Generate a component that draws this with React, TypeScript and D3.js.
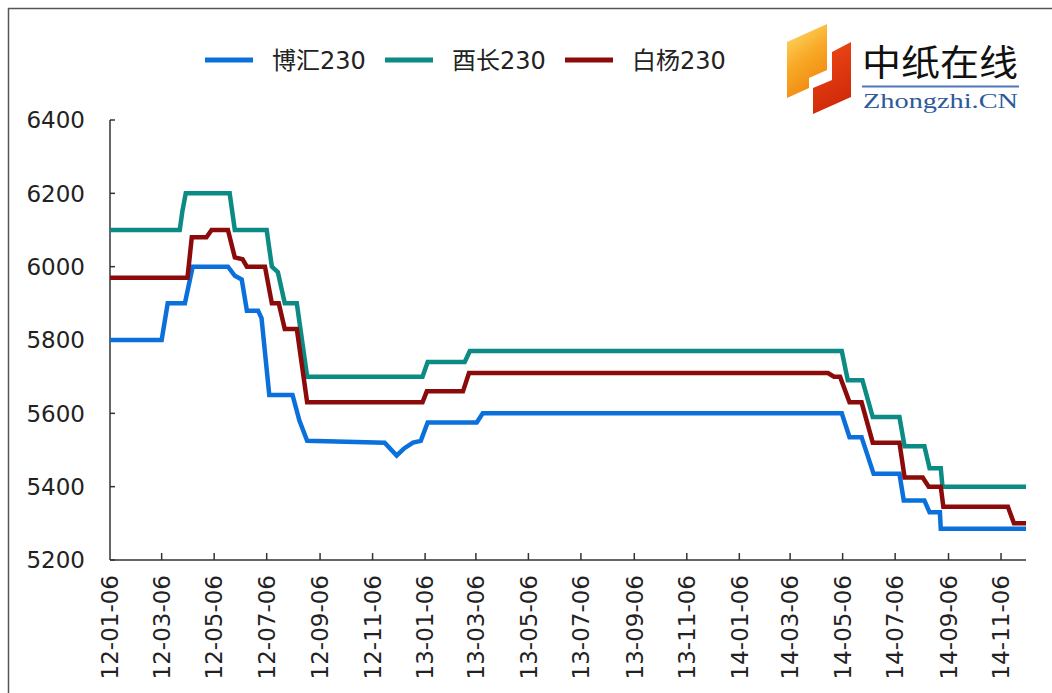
import React from "react";
import * as d3 from "d3";

const seriesNames = ["博汇230", "酉长230", "白杨230"];
const seriesColors = ["#0b70dc", "#0c8a84", "#8b0a0a"];

const bohuiDates = [
  "2012-01-06", "2012-03-06", "2012-03-13", "2012-04-02", "2012-04-11", "2012-05-22",
  "2012-05-30", "2012-06-07", "2012-06-13", "2012-06-26", "2012-06-30", "2012-07-09",
  "2012-08-05", "2012-08-13", "2012-08-22", "2012-11-20", "2012-12-04", "2012-12-13",
  "2012-12-23", "2013-01-01", "2013-01-09", "2013-03-07", "2013-03-14", "2014-05-05",
  "2014-05-14", "2014-05-28", "2014-06-11", "2014-07-11", "2014-07-16", "2014-08-09",
  "2014-08-15", "2014-08-27", "2014-08-28", "2014-12-05",
];
const bohuiValues = [
  5800, 5800, 5900, 5900, 6000, 6000,
  5975, 5965, 5880, 5880, 5860, 5650,
  5650, 5580, 5525, 5520, 5485, 5505,
  5520, 5525, 5575, 5575, 5600, 5600,
  5535, 5535, 5435, 5435, 5362, 5362,
  5330, 5330, 5285, 5285,
];

const youchangDates = [
  "2012-01-06", "2012-03-27", "2012-03-30", "2012-04-03", "2012-05-24", "2012-05-30",
  "2012-07-06", "2012-07-12", "2012-07-19", "2012-07-27", "2012-08-10", "2012-08-22",
  "2013-01-03", "2013-01-09", "2013-02-21", "2013-02-27", "2014-05-05", "2014-05-12",
  "2014-05-29", "2014-06-10", "2014-07-11", "2014-07-17", "2014-08-09", "2014-08-15",
  "2014-08-28", "2014-08-30", "2014-12-05",
];
const youchangValues = [
  6100, 6100, 6150, 6200, 6200, 6100,
  6100, 6000, 5985, 5900, 5900, 5700,
  5700, 5740, 5740, 5770, 5770, 5690,
  5690, 5590, 5590, 5510, 5510, 5450,
  5450, 5400, 5400,
];

const baiyangDates = [
  "2012-01-06", "2012-04-05", "2012-04-10", "2012-04-27", "2012-05-03", "2012-05-22",
  "2012-05-30", "2012-06-08", "2012-06-13", "2012-07-04", "2012-07-12", "2012-07-20",
  "2012-07-27", "2012-08-10", "2012-08-22", "2013-01-03", "2013-01-08", "2013-02-19",
  "2013-02-26", "2014-04-19", "2014-04-26", "2014-05-03", "2014-05-14", "2014-05-28",
  "2014-06-10", "2014-07-11", "2014-07-17", "2014-08-07", "2014-08-14", "2014-08-28",
  "2014-08-31", "2014-11-14", "2014-11-21", "2014-12-05",
];
const baiyangValues = [
  5970, 5970, 6080, 6080, 6100, 6100,
  6025, 6020, 6000, 6000, 5900, 5900,
  5830, 5830, 5630, 5630, 5660, 5660,
  5710, 5710, 5700, 5700, 5630, 5630,
  5520, 5520, 5425, 5425, 5400, 5400,
  5345, 5345, 5300, 5300,
];

const yTicks = [5200, 5400, 5600, 5800, 6000, 6200, 6400];
const xTickLabels = [
  "12-01-06", "12-03-06", "12-05-06", "12-07-06", "12-09-06", "12-11-06",
  "13-01-06", "13-03-06", "13-05-06", "13-07-06", "13-09-06", "13-11-06",
  "14-01-06", "14-03-06", "14-05-06", "14-07-06", "14-09-06", "14-11-06",
];
const xDomain = ["2012-01-06", "2014-12-05"];
const yDomain = [5200, 6400];

const parseIso = d3.timeParse("%Y-%m-%d");
const parseTick = d3.timeParse("%y-%m-%d");

export default function App() {
  const left = 110, right = 1026, top = 120, bottom = 560;
  const x = d3.scaleTime()
    .domain(xDomain.map((s) => parseIso(s) as Date))
    .range([left, right]);
  const y = d3.scaleLinear().domain(yDomain).range([bottom, top]);

  const series = [
    { dates: bohuiDates, values: bohuiValues },
    { dates: youchangDates, values: youchangValues },
    { dates: baiyangDates, values: baiyangValues },
  ].map((s) => s.dates.map((d, i) => [parseIso(d) as Date, s.values[i]] as [Date, number]));

  const line = d3.line<[Date, number]>().x((d) => x(d[0])).y((d) => y(d[1]));

  const axisColor = "#333";
  const font = "'DejaVu Sans', 'Noto Sans CJK SC', sans-serif";

  const legendX = [205, 385, 565];

  return (
    <svg
      width={1052}
      height={693}
      style={{ position: "absolute", left: 0, top: 0, background: "#fff" }}
    >
      <defs>
        <linearGradient id="orangeGrad" x1="0" y1="0" x2="0.4" y2="1">
          <stop offset="0%" stopColor="#ffe070" />
          <stop offset="55%" stopColor="#f8a826" />
          <stop offset="100%" stopColor="#f08a10" />
        </linearGradient>
        <linearGradient id="redGrad" x1="0" y1="0" x2="0.3" y2="1">
          <stop offset="0%" stopColor="#f04a18" />
          <stop offset="100%" stopColor="#d02a0a" />
        </linearGradient>
      </defs>
      <rect x={8.5} y={8.5} width={1200} height={1000} fill="none" stroke="#555" strokeWidth={1.5} />

      {/* Legend */}
      {seriesNames.map((name, i) => (
        <g key={name}>
          <line x1={legendX[i]} x2={legendX[i] + 48} y1={60} y2={60} stroke={seriesColors[i]} strokeWidth={5} />
          <text x={legendX[i] + 67} y={69} fontSize={24} fontFamily={font} fill="#222">
            {name}
          </text>
        </g>
      ))}

      {/* Logo */}
      <polygon points="787,42 827,24 827,70 809,78 809,88 787,98" fill="url(#orangeGrad)" />
      <polygon points="813,88 832,80 832,52 851,42 851,97 813,114" fill="url(#redGrad)" />
      <text x={862} y={76} fontSize={36} fontFamily="'Noto Sans CJK SC', sans-serif" fill="#111" textLength={156} lengthAdjust="spacingAndGlyphs">
        中纸在线
      </text>
      <line x1={862} x2={1019} y1={86.5} y2={86.5} stroke="#4a78b8" strokeWidth={2} />
      <text x={863} y={108} fontSize={20} fontFamily="'Liberation Serif', serif" fill="#2d5a9a" textLength={155} lengthAdjust="spacingAndGlyphs">
        Zhongzhi.CN
      </text>

      {/* Y axis */}
      <line x1={left} x2={left} y1={top} y2={bottom} stroke={axisColor} strokeWidth={1.5} />
      {yTicks.map((t) => (
        <g key={t}>
          <line x1={left} x2={left + 5} y1={y(t)} y2={y(t)} stroke={axisColor} strokeWidth={1.5} />
          <text x={85} y={y(t)} dy="0.36em" textAnchor="end" fontSize={23} fontFamily={font} fill="#222">
            {t}
          </text>
        </g>
      ))}

      {/* X axis */}
      <line x1={left} x2={right} y1={bottom} y2={bottom} stroke={axisColor} strokeWidth={1.5} />
      {xTickLabels.map((lbl, i) => {
        const xp = x(parseTick(lbl) as Date);
        return (
          <g key={lbl}>
            {i > 0 && <line x1={xp} x2={xp} y1={bottom} y2={bottom - 7} stroke={axisColor} strokeWidth={1.5} />}
            <text
              transform={`translate(${xp},575) rotate(-90)`}
              textAnchor="end"
              dy="0.36em"
              fontSize={23}
              fontFamily={font}
              fill="#222"
            >
              {lbl}
            </text>
          </g>
        );
      })}

      {/* Lines */}
      {series.map((pts, i) => (
        <path key={i} d={line(pts) || ""} fill="none" stroke={seriesColors[i]} strokeWidth={4.5} strokeLinejoin="miter" />
      ))}
    </svg>
  );
}
